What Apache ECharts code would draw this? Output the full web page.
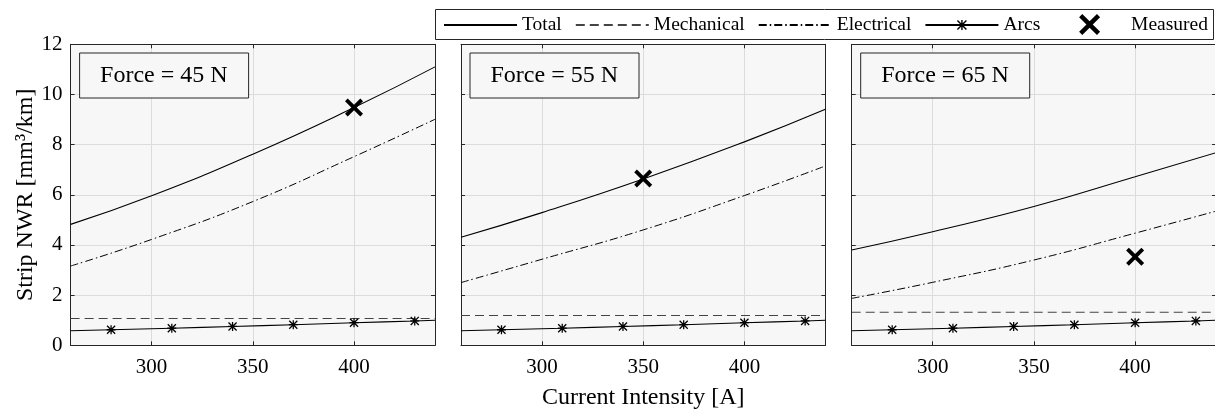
<!DOCTYPE html>
<html>
<head>
<meta charset="utf-8">
<script src="https://cdn.jsdelivr.net/npm/echarts@6/dist/echarts.min.js"></script>
<style>
  html, body { margin: 0; padding: 0; background: #fff; }
  #chart { width: 1215px; height: 412px; }
</style>
</head>
<body>
<div id="chart"></div>
<script>
// current intensity [A] where the curves were read
const xCurrent = [260, 300, 350, 400, 440];
// total NWR per force
const total45 = [4.82, 5.96, 7.62, 9.48, 11.1];
const total55 = [4.31, 5.29, 6.63, 8.11, 9.41];
const total65 = [3.80, 4.53, 5.53, 6.72, 7.68];
// electrical part
const elec45 = [3.16, 4.22, 5.73, 7.52, 9.01];
const elec55 = [2.50, 3.43, 4.60, 5.97, 7.15];
const elec65 = [1.87, 2.51, 3.40, 4.47, 5.35];
// mechanical part (flat)
const xEdges = [260, 440];
const mechanical = [1.07, 1.19, 1.32];
// arcs (same in every panel), markers only on inner points
const xArcs = [260, 280, 310, 340, 370, 400, 430, 440];
const arcs = [0.58, 0.62, 0.68, 0.75, 0.82, 0.90, 0.97, 1.00];
// measured points
const measuredX = [400, 350, 400];
const measuredY = [9.48, 6.65, 3.53];
const forceLabels = ['Force = 45 N', 'Force = 55 N', 'Force = 65 N'];

const totals = [total45, total55, total65];
const elecs = [elec45, elec55, elec65];

const FONT = 'Liberation Serif';
const INK = '#262626';
const gridLeft = [70.6, 461, 851.7];

const starPath = 'path://M4.3,0 L5.7,0 L5.7,10 L4.3,10 Z M0,4.3 L10,4.3 L10,5.7 L0,5.7 Z M1,0 L10,9 L9,10 L0,1 Z M9,0 L10,1 L1,10 L0,9 Z';
const crossPath = 'path://M0,3 L3,0 L10,7 L17,0 L20,3 L13,10 L20,17 L17,20 L10,13 L3,20 L0,17 L7,10 Z';

function pairs(xs, ys) {
    return xs.map((x, i) => [x, ys[i]]);
}

let grids = [], xAxes = [], yAxes = [], series = [], titles = [];

for (let p = 0; p < 3; p++) {
    grids.push({
        left: gridLeft[p], top: 44.3, width: 364.4, height: 301,
        containLabel: false, outerBoundsMode: 'none',
        show: true, backgroundColor: '#f7f7f7', borderWidth: 0
    });
    titles.push({
        text: forceLabels[p],
        left: gridLeft[p] + 8.5, top: 52.5,
        padding: [11, 21, 11, 21],
        borderColor: INK, borderWidth: 1, backgroundColor: '#f7f7f7',
        textStyle: {fontFamily: FONT, fontSize: 24, fontWeight: 'normal', color: '#000', lineHeight: 24}
    });
}

// bottom x axes
for (let p = 0; p < 3; p++) {
    xAxes.push({
        type: 'value', gridIndex: p, position: 'bottom',
        min: 260, max: 440, splitNumber: 4,
        name: p === 1 ? 'Current Intensity [A]' : '',
        nameLocation: 'middle', nameGap: 40,
        nameTextStyle: {fontFamily: FONT, fontSize: 24, color: '#000'},
        axisLine: {show: true, onZero: false, lineStyle: {color: INK, width: 1}},
        axisTick: {show: true, inside: true, length: 4, lineStyle: {color: INK}},
        axisLabel: {show: true, showMinLabel: false, showMaxLabel: false, margin: 12,
            fontFamily: FONT, fontSize: 21, color: '#000'},
        splitLine: {show: true, lineStyle: {color: '#dcdcdc', width: 1}}
    });
}
// top x axes (box ticks)
for (let p = 0; p < 3; p++) {
    xAxes.push({
        type: 'value', gridIndex: p, position: 'top',
        min: 260, max: 440, splitNumber: 4,
        axisLine: {show: true, onZero: false, lineStyle: {color: INK, width: 1}},
        axisTick: {show: true, inside: true, length: 4, lineStyle: {color: INK}},
        axisLabel: {show: false},
        splitLine: {show: false}
    });
}
// left y axes
for (let p = 0; p < 3; p++) {
    yAxes.push({
        type: 'value', gridIndex: p, position: 'left',
        min: 0, max: 12, interval: 2,
        name: p === 0 ? 'Strip NWR [mm³/km]' : '',
        nameLocation: 'middle', nameGap: 33,
        nameTextStyle: {fontFamily: FONT, fontSize: 24, color: '#000'},
        axisLine: {show: true, onZero: false, lineStyle: {color: INK, width: 1}},
        axisTick: {show: true, inside: true, length: 4, lineStyle: {color: INK}},
        axisLabel: {show: p === 0, margin: 8, fontFamily: FONT, fontSize: 21, color: '#000'},
        splitLine: {show: true, lineStyle: {color: '#dcdcdc', width: 1}}
    });
}
// right y axes (box ticks)
for (let p = 0; p < 3; p++) {
    yAxes.push({
        type: 'value', gridIndex: p, position: 'right',
        min: 0, max: 12, interval: 2,
        axisLine: {show: true, onZero: false, lineStyle: {color: INK, width: 1}},
        axisTick: {show: true, inside: true, length: 4, lineStyle: {color: INK}},
        axisLabel: {show: false},
        splitLine: {show: false}
    });
}

for (let p = 0; p < 3; p++) {
    series.push({
        name: 'Total', type: 'line', xAxisIndex: p, yAxisIndex: p,
        data: pairs(xCurrent, totals[p]), smooth: true, symbol: 'none',
        color: '#000', lineStyle: {color: '#000', width: 1.1}, z: 3
    });
    series.push({
        name: 'Mechanical', type: 'line', xAxisIndex: p, yAxisIndex: p,
        data: pairs(xEdges, [mechanical[p], mechanical[p]]), symbol: 'none',
        color: '#444', lineStyle: {color: '#444', width: 1.1, type: [9, 5]}, z: 3
    });
    series.push({
        name: 'Electrical', type: 'line', xAxisIndex: p, yAxisIndex: p,
        data: pairs(xCurrent, elecs[p]), smooth: true, symbol: 'none',
        color: '#000', lineStyle: {color: '#000', width: 1, type: [8, 3, 1.5, 3]}, z: 3
    });
    series.push({
        name: 'Arcs', type: 'line', xAxisIndex: p, yAxisIndex: p,
        data: xArcs.map((x, i) => {
            let item = {value: [x, arcs[i]]};
            if (i === 0 || i === xArcs.length - 1) item.symbol = 'none';
            return item;
        }),
        smooth: true, symbol: starPath, symbolSize: 9, showSymbol: true,
        color: '#000', itemStyle: {color: '#000'},
        lineStyle: {color: '#000', width: 1.1}, z: 3
    });
    series.push({
        name: 'Measured', type: 'scatter', xAxisIndex: p, yAxisIndex: p,
        data: [[measuredX[p], measuredY[p]]],
        symbol: crossPath, symbolSize: 18,
        color: '#000', itemStyle: {color: '#000', opacity: 1}, z: 4
    });
}

const hidden = {opacity: 0};
const legendText = {fontFamily: FONT, fontSize: 19.5, color: '#000'};

const chart = echarts.init(document.getElementById('chart'), null, {renderer: 'canvas'});
chart.setOption({
    animation: false,
    backgroundColor: '#fff',
    title: titles,
    grid: grids,
    xAxis: xAxes,
    yAxis: yAxes,
    graphic: [{
        type: 'rect', left: 435, top: 9, z: 0,
        shape: {width: 778, height: 30},
        style: {fill: '#fff', stroke: INK, lineWidth: 1}
    }],
    legend: [{
        data: [
            {name: 'Total', itemStyle: hidden},
            {name: 'Mechanical', itemStyle: hidden},
            {name: 'Electrical', itemStyle: hidden},
            {name: 'Arcs'}
        ],
        left: 443, top: 15, padding: 0,
        itemWidth: 73, itemHeight: 12.5, itemGap: 13,
        textStyle: legendText,
        selectedMode: false, z: 5
    }, {
        data: [{name: 'Measured', icon: crossPath}],
        right: 7, top: 14, padding: 0,
        itemWidth: 73, itemHeight: 21,
        textStyle: legendText,
        selectedMode: false, z: 5
    }],
    series: series
});
</script>
</body>
</html>
